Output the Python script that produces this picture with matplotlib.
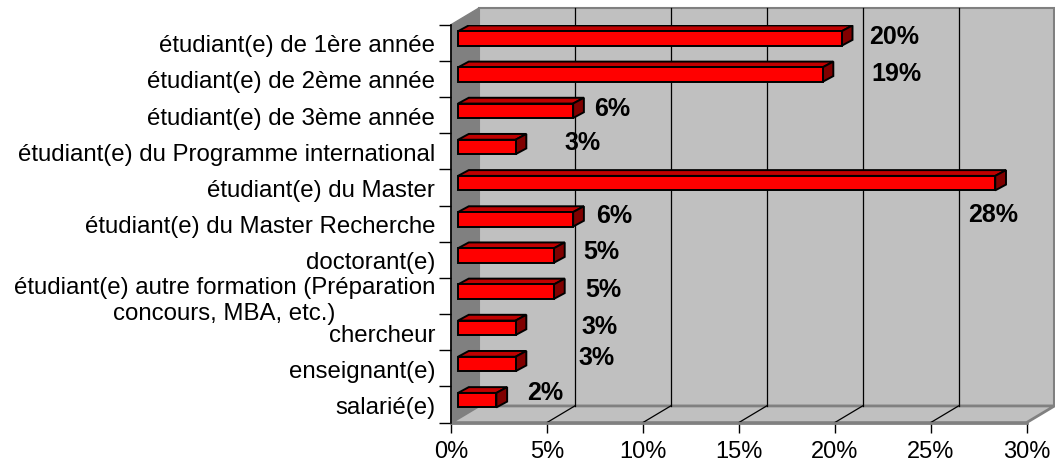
"""Pseudo-3D horizontal bar chart: repartition of respondents by status."""

import matplotlib

matplotlib.use("Agg")
import matplotlib.pyplot as plt
import numpy as np
from matplotlib.patches import Polygon

CATEGORIES = [
    "étudiant(e) de 1ère année",
    "étudiant(e) de 2ème année",
    "étudiant(e) de 3ème année",
    "étudiant(e) du Programme international",
    "étudiant(e) du Master",
    "étudiant(e) du Master Recherche",
    "doctorant(e)",
    "étudiant(e) autre formation (Préparation\nconcours, MBA, etc.)",
    "chercheur",
    "enseignant(e)",
    "salarié(e)",
]
SHARES = [20, 19, 6, 3, 28, 6, 5, 5, 3, 3, 2]
X_TICKS = [0, 5, 10, 15, 20, 25, 30]
X_TICK_LABELS = ["0%", "5%", "10%", "15%", "20%", "25%", "30%"]

# label nudges in pixels (Excel put them a bit everywhere)
LABEL_NUDGE_PX = [
    (52, 2), (74, 2), (39, 3), (67, 5), (-2, -31), (41, 4),
    (47, 4), (49, 3), (84, 2), (81, 7), (49, 8),
]

RED = "#FF0000"
RED_TOP = "#C00000"
RED_SIDE = "#800000"
WALL = "#C0C0C0"
WALL_DARK = "#808080"
EDGE = "#000000"

DEPTH_X, DEPTH_Y = 1.45, 0.46      # depth of the walls, data units
BAR_X0 = 0.365                      # bars sit slightly behind the front plane
BAR_SHIFT = 0.12
BAR_H = 0.40
BAR_DX, BAR_DY = 0.56, 0.16

plt.rcParams["font.family"] = ["Liberation Sans", "DejaVu Sans"]

fig = plt.figure(figsize=(10.55, 4.64), dpi=100, facecolor="white")
ax = fig.add_axes([0.4275, 0.0871, 0.5456, 0.8575])
ax.set_facecolor("none")
n = len(CATEGORIES)
x_max = X_TICKS[-1]
ax.set_xlim(0, x_max)
ax.set_ylim(n - 0.5, -0.5)

top, bottom = -0.5, n - 0.5
# walls and floor
back = Polygon(
    [(DEPTH_X, top - DEPTH_Y), (x_max + DEPTH_X, top - DEPTH_Y),
     (x_max + DEPTH_X, bottom - DEPTH_Y), (DEPTH_X, bottom - DEPTH_Y)],
    closed=True, facecolor=WALL, edgecolor=WALL_DARK, linewidth=1.5,
    clip_on=False, zorder=0,
)
left = Polygon(
    [(0, top), (DEPTH_X, top - DEPTH_Y), (DEPTH_X, bottom - DEPTH_Y), (0, bottom)],
    closed=True, facecolor=WALL_DARK, edgecolor=WALL_DARK, linewidth=1.0,
    clip_on=False, zorder=0,
)
floor = Polygon(
    [(0, bottom), (x_max, bottom), (x_max + DEPTH_X, bottom - DEPTH_Y),
     (DEPTH_X, bottom - DEPTH_Y)],
    closed=True, facecolor=WALL, edgecolor=WALL_DARK, linewidth=2.0,
    clip_on=False, zorder=0.5,
)
for patch in (back, left, floor):
    ax.add_patch(patch)

for t in X_TICKS[1:-1]:
    ax.plot([t + DEPTH_X, t + DEPTH_X], [top - DEPTH_Y, bottom - DEPTH_Y],
            color="black", linewidth=0.9, clip_on=False, zorder=1)
    ax.plot([t, t + DEPTH_X], [bottom, bottom - DEPTH_Y],
            color="black", linewidth=0.9, clip_on=False, zorder=1)

# bars: front face + top + side
y = np.arange(n) - BAR_SHIFT
bars = ax.barh(y, SHARES, left=BAR_X0, height=BAR_H, color=RED,
               edgecolor=EDGE, linewidth=1.4, zorder=3)
for yc, val in zip(y, SHARES):
    y_top = yc - BAR_H / 2
    y_bot = yc + BAR_H / 2
    x_end = BAR_X0 + val
    ax.add_patch(Polygon(
        [(BAR_X0, y_top), (x_end, y_top), (x_end + BAR_DX, y_top - BAR_DY),
         (BAR_X0 + BAR_DX, y_top - BAR_DY)],
        closed=True, facecolor=RED_TOP, edgecolor=EDGE, linewidth=1.4, zorder=2.5,
    ))
    ax.add_patch(Polygon(
        [(x_end, y_top), (x_end + BAR_DX, y_top - BAR_DY),
         (x_end + BAR_DX, y_bot - BAR_DY), (x_end, y_bot)],
        closed=True, facecolor=RED_SIDE, edgecolor=EDGE, linewidth=1.4, zorder=2.5,
    ))

for yc, val, (nx, ny) in zip(y, SHARES, LABEL_NUDGE_PX):
    ax.annotate(f"{val}%", xy=(BAR_X0 + val, yc), xytext=(nx, ny),
                textcoords="offset pixels", ha="center", va="center",
                fontsize=18, fontweight="bold", color="black", zorder=4,
                annotation_clip=False)

# axes styling
for side in ("top", "right"):
    ax.spines[side].set_visible(False)
ax.spines["left"].set_color("black")
ax.spines["left"].set_linewidth(1.2)
ax.spines["bottom"].set_color(WALL_DARK)
ax.spines["bottom"].set_linewidth(2.0)
ax.spines["bottom"].set_zorder(2)

ax.set_xticks(X_TICKS, X_TICK_LABELS)
ax.tick_params(axis="x", length=7, width=1.0, color="black", pad=5.5,
               labelsize=17)
ax.set_yticks(np.arange(n), CATEGORIES)
for lbl in ax.get_yticklabels():
    lbl.set_multialignment("center")
    lbl.set_linespacing(1.2)
ax.tick_params(axis="y", which="major", length=0, pad=11.5, labelsize=17.3)
ax.set_yticks(np.arange(-0.5, n, 1.0), minor=True)
ax.tick_params(axis="y", which="minor", length=8.6, width=1.0, color="black")

fig.savefig("out.png", dpi=100)
